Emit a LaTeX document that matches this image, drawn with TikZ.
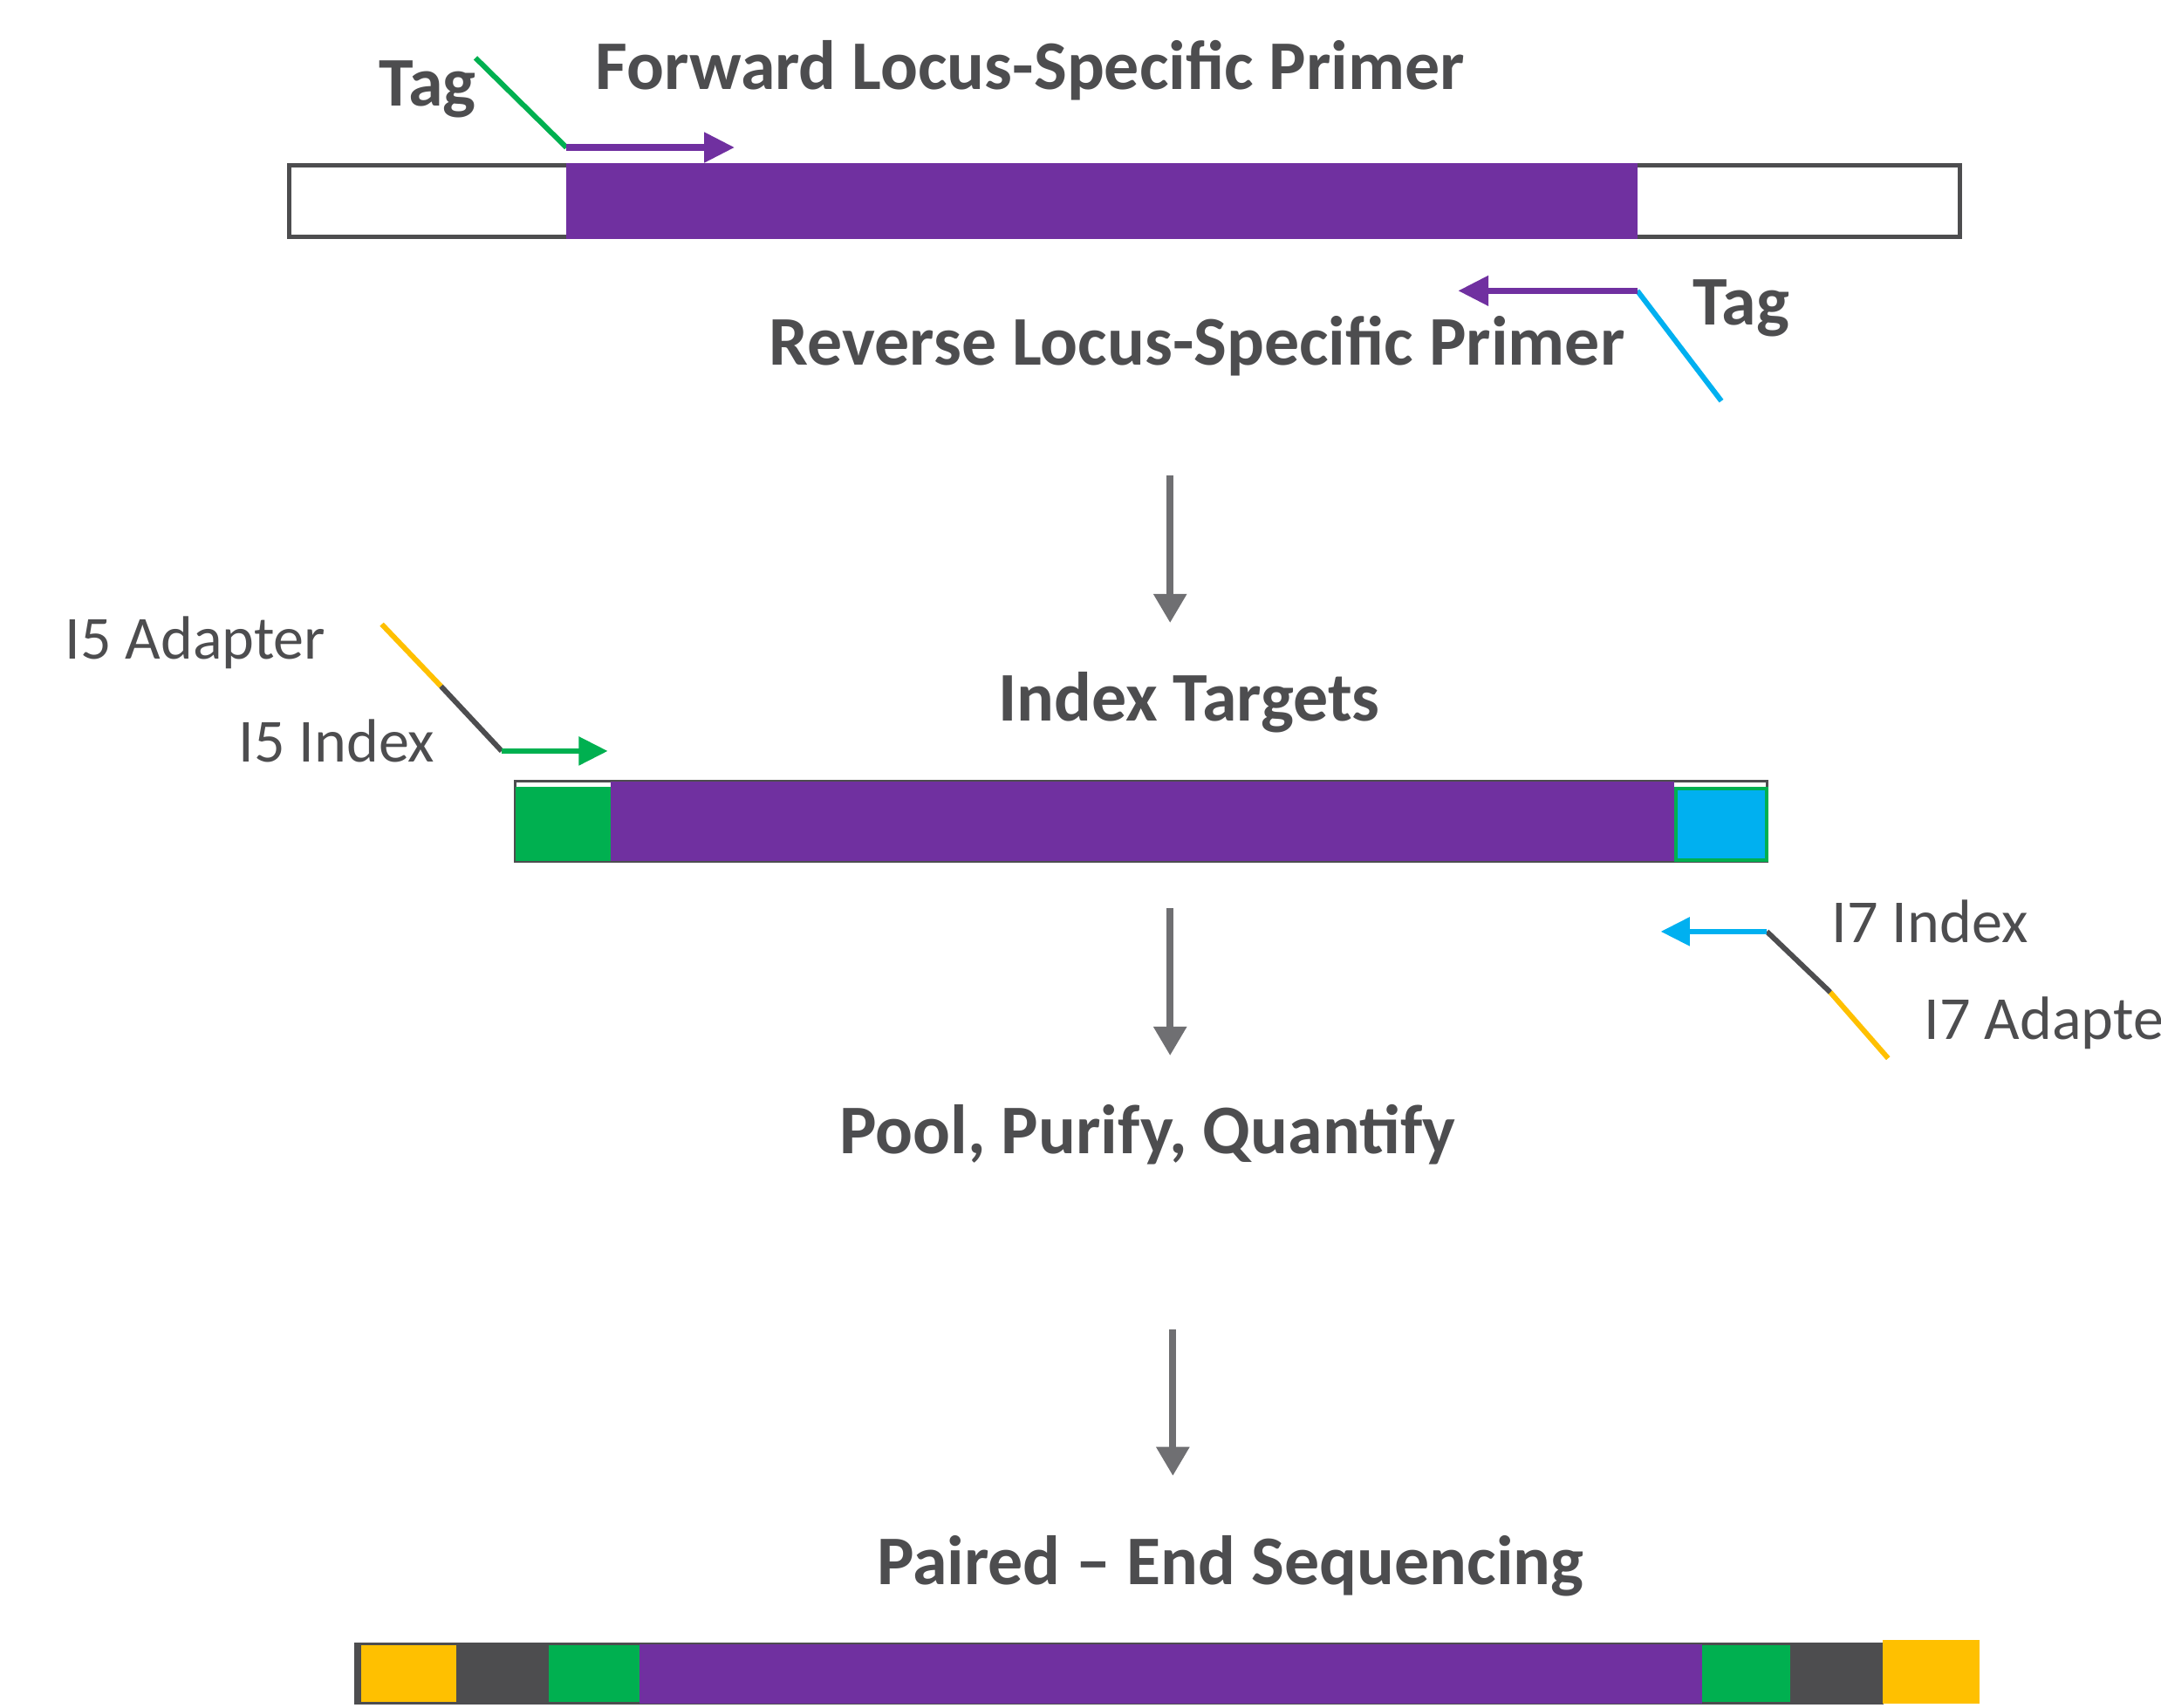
\documentclass[tikz,border=0pt]{standalone}
\usepackage{fontspec}
\setmainfont{Carlito}
\usetikzlibrary{arrows.meta}

\definecolor{dna}{RGB}{112,48,160}
\definecolor{idxgreen}{RGB}{0,176,80}
\definecolor{idxblue}{RGB}{0,176,240}
\definecolor{adapt}{RGB}{255,192,0}
\definecolor{ink}{RGB}{77,77,79}
\definecolor{flow}{RGB}{111,111,114}

\tikzstyle{hd}=[anchor=base west,
                text=ink,
                inner sep=0pt,
                font=\fontsize{50.6}{56}\selectfont\bfseries]
\tikzstyle{lb}=[anchor=base west,
                text=ink,
                inner sep=0pt,
                font=\fontsize{44.4}{50}\selectfont]
\tikzstyle{seg}=[shape=rectangle,
                anchor=north west,
                inner sep=0pt,
                outer sep=0pt]
\tikzstyle{primer}=[line width=4.5pt,
                -{Triangle[length=22pt,width=21pt]}]
\tikzstyle{tagline}=[line width=3.8pt]
\tikzstyle{flowarrow}=[draw=flow,
                line width=5pt,
                -{Triangle[length=21pt,width=23pt]}]

\begin{document}
\begin{tikzpicture}[x=1pt,y=-1pt]
\useasboundingbox (0,0) rectangle (1568,1239);

% template with locus
\node[seg,draw=ink,line width=3pt,minimum width=1212pt,minimum height=52pt] (tmpl) at (210,120) {};
\node[seg,fill=dna,minimum width=777pt,minimum height=55pt] (locus) at (411,118.5) {};

% forward primer
\coordinate (ftag)   at (345,42);
\coordinate (fstart) at (411,107);
\coordinate (fend)   at (533,107);
\draw[tagline,idxgreen] (ftag) -- (fstart);
\draw[primer,dna] (fstart) -- (fend);
\node[hd] (tag1) at (275,77) {Tag};
\node[hd] (fwd)  at (432,65) {Forward Locus-Specific Primer};

% reverse primer
\coordinate (rtag)   at (1249,291);
\coordinate (rstart) at (1188,211);
\coordinate (rend)   at (1058,211);
\draw[tagline,idxblue] (rtag) -- (rstart);
\draw[primer,dna] (rstart) -- (rend);
\node[hd] (tag2) at (1228,236) {Tag};
\node[hd] (rev)  at (558,265) {Reverse Locus-Specific Primer};

% step 1
\coordinate (s1a) at (849,345);
\coordinate (s1b) at (849,452);
\draw[flowarrow] (s1a) -- (s1b);

% indexed target
\node[hd] (idx) at (724,523) {Index Targets};
\node[seg,draw=ink,line width=2pt,minimum width=908pt,minimum height=58pt] (tgt) at (374,567) {};
\node[seg,fill=idxgreen,minimum width=69pt,minimum height=54pt] (i5box) at (374,571) {};
\node[seg,fill=dna,minimum width=772pt,minimum height=58pt] (tgtlocus) at (443,567) {};
\node[seg,fill=idxblue,draw=idxgreen,line width=2.5pt,minimum width=66pt,minimum height=52pt] (i7box) at (1216,572) {};

% i5 primer
\coordinate (i5a) at (277,453);
\coordinate (i5b) at (320,498);
\coordinate (i5c) at (364,545);
\coordinate (i5d) at (441,545);
\draw[tagline,adapt] (i5a) -- (i5b);
\draw[tagline,ink] (i5b) -- (i5c);
\draw[line width=4pt,idxgreen,-{Triangle[length=21pt,width=20pt]}] (i5c) -- (i5d);
\node[lb] (i5ad) at (47,478)  {I5 Adapter};
\node[lb] (i5ix) at (173,553) {I5 Index};

% i7 primer
\coordinate (i7a) at (1370,768);
\coordinate (i7b) at (1328,720);
\coordinate (i7c) at (1282,676);
\coordinate (i7d) at (1205,676);
\draw[tagline,adapt] (i7a) -- (i7b);
\draw[tagline,ink] (i7b) -- (i7c);
\draw[line width=4pt,idxblue,-{Triangle[length=21pt,width=20pt]}] (i7c) -- (i7d);
\node[lb] (i7ix) at (1329,684) {I7 Index};
\node[lb] (i7ad) at (1396,754) {I7 Adapte};

% step 2
\coordinate (s2a) at (849,659);
\coordinate (s2b) at (849,766);
\draw[flowarrow] (s2a) -- (s2b);
\node[hd] (pool) at (609,837) {Pool, Purify, Quantify};

% step 3
\coordinate (s3a) at (851,965);
\coordinate (s3b) at (851,1071);
\draw[flowarrow] (s3a) -- (s3b);
\node[hd] (seq) at (636,1150) {Paired – End Sequencing};

% final library
\node[seg,fill=ink,draw=ink,line width=1.5pt,minimum width=1108pt,minimum height=43pt] (lib) at (258,1193) {};
\node[seg,fill=adapt,minimum width=69pt,minimum height=41pt] (p5) at (262,1194) {};
\node[seg,fill=idxgreen,minimum width=66pt,minimum height=41pt] (b5) at (398,1194) {};
\node[seg,fill=dna,minimum width=771pt,minimum height=43pt] (liblocus) at (464,1193) {};
\node[seg,fill=idxgreen,minimum width=64pt,minimum height=41pt] (b7) at (1235,1194) {};
\node[seg,fill=adapt,minimum width=70pt,minimum height=46pt] (p7) at (1366,1190) {};
\end{tikzpicture}
\end{document}
